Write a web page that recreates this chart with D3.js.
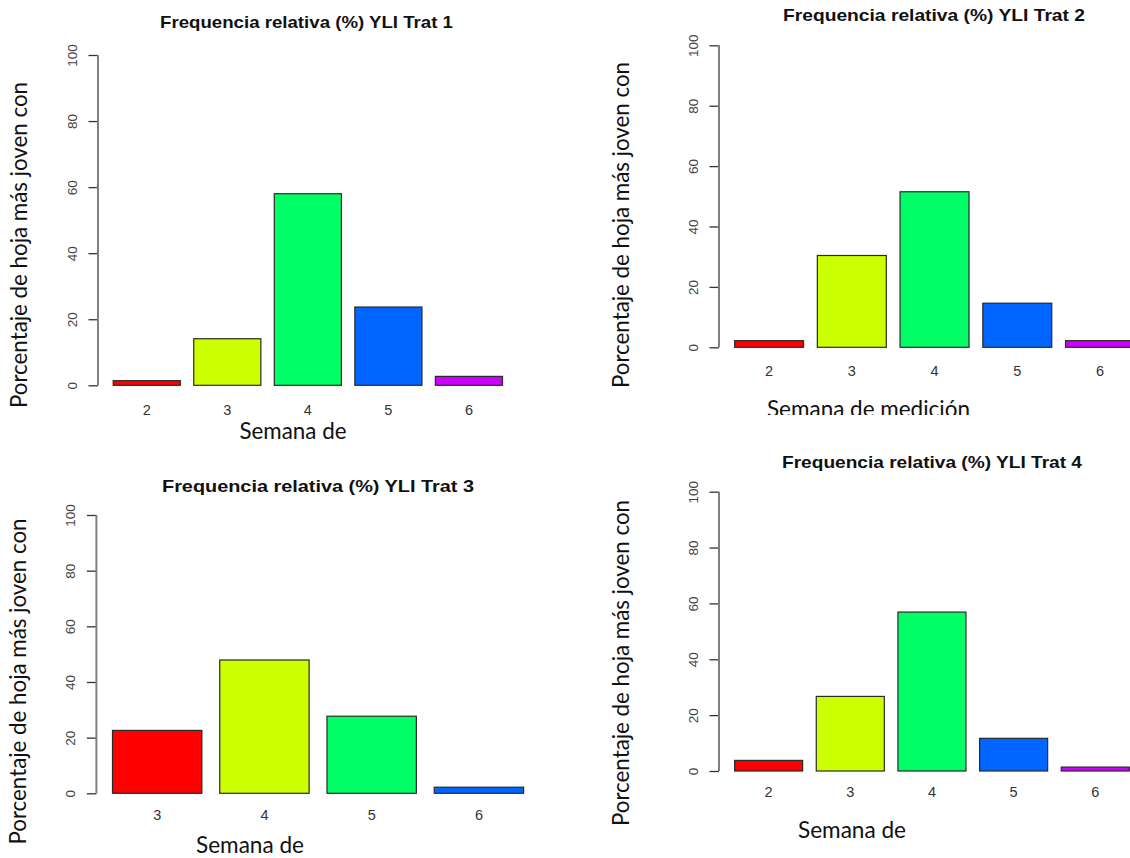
<!DOCTYPE html>
<html>
<head>
<meta charset="utf-8">
<script src="https://cdn.jsdelivr.net/npm/d3@7"></script>
<style>
body{margin:0;background:#fff;}
svg{display:block;}
</style>
</head>
<body>
<div id="chart"></div>
<script>
//relative frequency (%) of the youngest leaf, one panel per treatment

var weeks_t1 = ["2","3","4","5","6"];
var vals_t1 = [1.4, 14.1, 58.0, 23.7, 2.7];

var weeks_t2 = ["2","3","4","5","6"];
var vals_t2 = [2.2, 30.4, 51.5, 14.6, 2.2];

var weeks_t3 = ["3","4","5","6"];
var vals_t3 = [22.6, 47.9, 27.7, 2.2];

var weeks_t4 = ["2","3","4","5","6"];
var vals_t4 = [3.8, 26.7, 56.9, 11.7, 1.4];

var y_ticks = [0, 20, 40, 60, 80, 100];
//rainbow(5)
var bar_colors = ["#FF0000", "#CCFF00", "#00FF66", "#0066FF", "#CC00FF"];

var titles = ["Frequencia relativa (%) YLI Trat 1", "Frequencia relativa (%) YLI Trat 2",
              "Frequencia relativa (%) YLI Trat 3", "Frequencia relativa (%) YLI Trat 4"];
var y_title = "Porcentaje de hoja más joven con";
var x_titles = ["Semana de", "Semana de medición", "Semana de", "Semana de"];

//where each panel sits in the picture
var panels = [
	{cats:weeks_t1, vals:vals_t1, title:titles[0], xt:x_titles[0],
	 ax:98, y0:385.3, y1:55, bl:113.2, br:502.5,
	 tx:306.5, ty:28.3, tw:293, lab:415, xtx:293, xty:439, xtw:107, ytx:26.5, yty:245, clip:null},
	{cats:weeks_t2, vals:vals_t2, title:titles[1], xt:x_titles[1],
	 ax:719, y0:347.3, y1:45.3, bl:734.6, br:1134.5,
	 tx:934, ty:20.7, tw:302, lab:375.5, xtx:868.5, xty:417, xtw:203, ytx:629, yty:225, clip:415},
	{cats:weeks_t3, vals:vals_t3, title:titles[2], xt:x_titles[2],
	 ax:96.4, y0:793.3, y1:515, bl:112.5, br:523.6,
	 tx:318, ty:491.7, tw:312, lab:820, xtx:250, xty:853, xtw:108, ytx:25.5, yty:681.5, clip:null},
	{cats:weeks_t4, vals:vals_t4, title:titles[3], xt:x_titles[3],
	 ax:719, y0:771, y1:491.7, bl:734.6, br:1129.3,
	 tx:932, ty:468.3, tw:300, lab:797, xtx:852, xty:838, xtw:108, ytx:629, yty:663, clip:null}
];

var svg = d3.select("#chart").append("svg")
	.attr("width", 1130).attr("height", 858)
	.style("background", "#fff");

var defs = svg.append("defs");

panels.forEach(function(p, pi){
	var g = svg.append("g").attr("class", "panel");

	var x = d3.scaleBand().domain(p.cats).range([p.bl, p.br])
		.paddingInner(0.2/1.2).paddingOuter(0);
	var y = d3.scaleLinear().domain([0, 100]).range([p.y0, p.y1]);

	//bars
	g.selectAll("rect.bar").data(p.vals).enter().append("rect")
		.attr("class", "bar")
		.attr("x", function(d,i){return x(p.cats[i])})
		.attr("width", x.bandwidth())
		.attr("y", function(d){return y(d)})
		.attr("height", function(d){return y(0) - y(d)})
		.attr("fill", function(d,i){return bar_colors[i]})
		.attr("stroke", "#2a2a2a")
		.attr("stroke-width", 1.2);

	//y axis, R style
	var yaxis = d3.axisLeft(y).tickValues(y_ticks).tickSize(9.5).tickPadding(0)
		.tickFormat(d3.format("d"));
	var ag = g.append("g").attr("transform", "translate(" + p.ax + ",0)").call(yaxis);
	ag.select(".domain").remove();
	ag.selectAll(".tick line").attr("stroke", "#333").attr("stroke-width", 1.3);
	ag.append("line")
		.attr("x1", 0).attr("x2", 0)
		.attr("y1", y(0)).attr("y2", y(100))
		.attr("stroke", "#808080").attr("stroke-width", 2);
	ag.selectAll(".tick text")
		.attr("x", null).attr("dy", null)
		.attr("transform", "translate(-21.5,0) rotate(-90)")
		.attr("text-anchor", "middle")
		.attr("fill", "#444")
		.style("font-family", "'Liberation Sans', Arial, sans-serif")
		.style("font-size", "13.5px");

	//x labels, no axis line
	g.selectAll("text.xlab").data(p.cats).enter().append("text")
		.attr("class", "xlab")
		.attr("x", function(d){return x(d) + x.bandwidth()/2})
		.attr("y", p.lab)
		.attr("text-anchor", "middle")
		.attr("fill", "#333")
		.style("font-family", "'Liberation Sans', Arial, sans-serif")
		.style("font-size", "14.5px")
		.text(function(d){return d});

	//title
	g.append("text")
		.attr("x", p.tx).attr("y", p.ty)
		.attr("text-anchor", "middle")
		.attr("textLength", p.tw).attr("lengthAdjust", "spacingAndGlyphs")
		.attr("fill", "#111")
		.style("font-family", "'Liberation Sans', Arial, sans-serif")
		.style("font-weight", "bold")
		.style("font-size", "16.5px")
		.text(p.title);

	//axis titles
	var xt = g.append("text")
		.attr("x", p.xtx).attr("y", p.xty)
		.attr("text-anchor", "middle")
		.attr("textLength", p.xtw).attr("lengthAdjust", "spacingAndGlyphs")
		.attr("fill", "#111")
		.style("font-family", "Lato, 'Open Sans', sans-serif")
		.style("font-size", "23px")
		.text(p.xt);
	if(p.clip){
		defs.append("clipPath").attr("id", "clip" + pi)
			.append("rect").attr("x", 0).attr("y", 0).attr("width", 1130).attr("height", p.clip);
		xt.attr("clip-path", "url(#clip" + pi + ")");
	}

	g.append("text")
		.attr("transform", "translate(" + p.ytx + "," + p.yty + ") rotate(-90)")
		.attr("text-anchor", "middle")
		.attr("textLength", 326).attr("lengthAdjust", "spacingAndGlyphs")
		.attr("fill", "#111")
		.style("font-family", "Lato, 'Open Sans', sans-serif")
		.style("font-size", "23px")
		.text(y_title);
});
</script>
</body>
</html>
